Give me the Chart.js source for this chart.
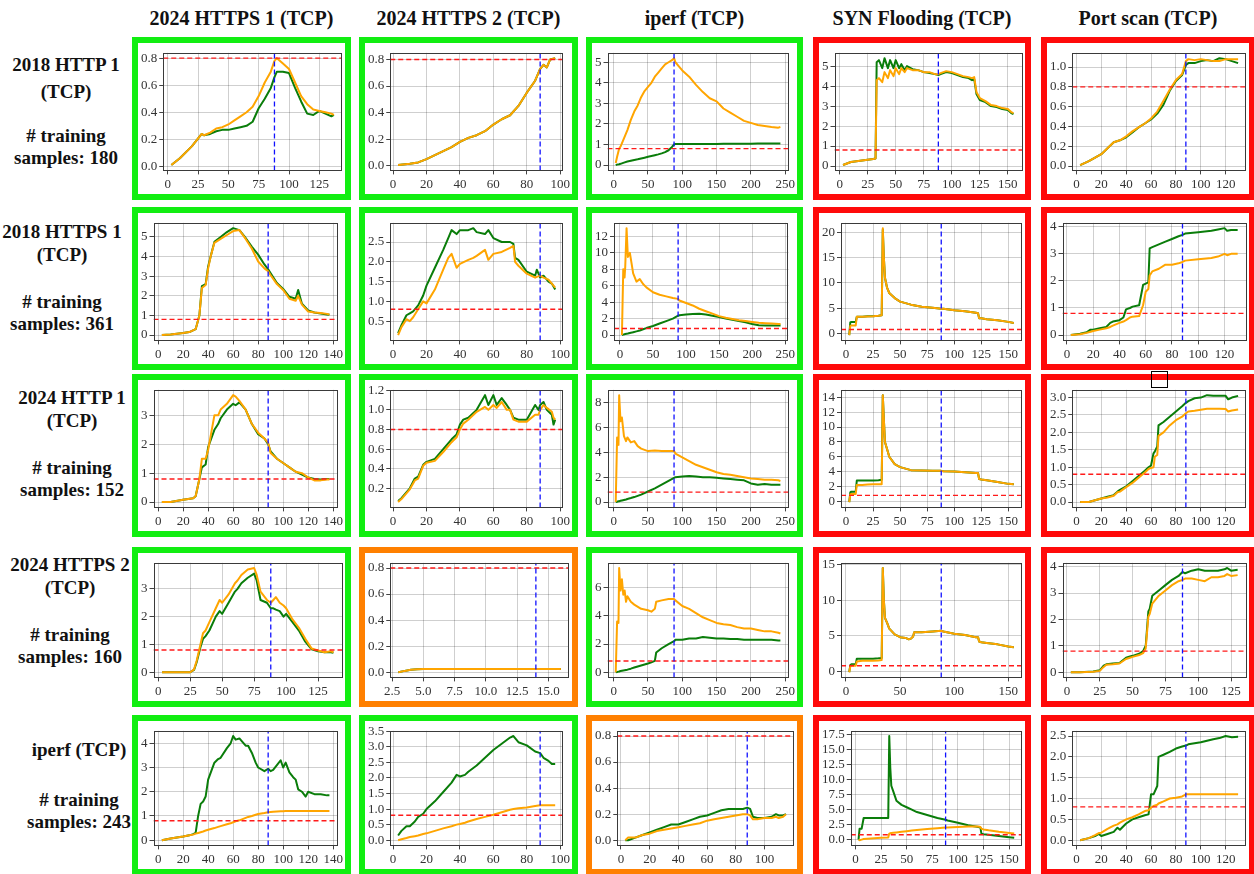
<!DOCTYPE html>
<html>
<head>
<meta charset="utf-8">
<script src="https://cdn.jsdelivr.net/npm/chart.js@4.4.0/dist/chart.umd.min.js"></script>
<style>
  body { margin: 0; background: #fff; width: 1254px; height: 874px; overflow: hidden; position: relative; font-family: 'Liberation Serif', serif; }
  .title { position: absolute; font-weight: bold; font-size: 20px; transform: translate(-50%, -50%); white-space: nowrap; color: #111; }
  .rowlab { position: absolute; font-weight: bold; font-size: 19px; transform: translate(-50%, -50%); white-space: nowrap; color: #111; }
  .cell { position: absolute; box-sizing: border-box; border: 6px solid; background: #fff; }
  .cell canvas { display: block; }
  .mark { position: absolute; left: 1151px; top: 371px; width: 15px; height: 15px; border: 1px solid #000; }
</style>
</head>
<body>
<script>
// ---- labels ----
const colTitles = ['2024 HTTPS 1 (TCP)', '2024 HTTPS 2 (TCP)', 'iperf (TCP)', 'SYN Flooding (TCP)', 'Port scan (TCP)'];
const rowLabels = [
  ['2018 HTTP 1', '(TCP)', '# training', 'samples: 180'],
  ['2018 HTTPS 1', '(TCP)', '# training', 'samples: 361'],
  ['2024 HTTP 1', '(TCP)', '# training', 'samples: 152'],
  ['2024 HTTPS 2', '(TCP)', '# training', 'samples: 160'],
  ['iperf  (TCP)', '# training', 'samples: 243']
];
const threshold = 0.8;

// ---- tick labels ----
const XT_125 = ['0', '25', '50', '75', '100', '125'];
const XT_100 = ['0', '20', '40', '60', '80', '100'];
const XT_250 = ['0', '50', '100', '150', '200', '250'];
const XT_150 = ['0', '25', '50', '75', '100', '125', '150'];
const XT_150b = ['0', '50', '100', '150'];
const XT_120 = ['0', '20', '40', '60', '80', '100', '120'];
const XT_140 = ['0', '20', '40', '60', '80', '100', '120', '140'];
const XT_15 = ['2.5', '5.0', '7.5', '10.0', '12.5', '15.0'];
const YT_08 = ['0.0', '0.2', '0.4', '0.6', '0.8'];
const YT_10 = ['0.0', '0.2', '0.4', '0.6', '0.8', '1.0'];
const YT_12b = ['0.2', '0.4', '0.6', '0.8', '1.0', '1.2'];
const YT_3 = ['0', '1', '2', '3'];
const YT_4 = ['0', '1', '2', '3', '4'];
const YT_5 = ['0', '1', '2', '3', '4', '5'];
const YT_6 = ['0', '2', '4', '6'];
const YT_8 = ['0', '2', '4', '6', '8'];
const YT_12 = ['0', '2', '4', '6', '8', '10', '12'];
const YT_14 = ['0', '2', '4', '6', '8', '10', '12', '14'];
const YT_15 = ['0', '5', '10', '15'];
const YT_20 = ['0', '5', '10', '15', '20'];
const YT_25h = ['0.5', '1.0', '1.5', '2.0', '2.5'];
const YT_25 = ['0.0', '0.5', '1.0', '1.5', '2.0', '2.5'];
const YT_30 = ['0.0', '0.5', '1.0', '1.5', '2.0', '2.5', '3.0'];
const YT_35 = ['0.0', '0.5', '1.0', '1.5', '2.0', '2.5', '3.0', '3.5'];
const YT_175 = ['0.0', '2.5', '5.0', '7.5', '10.0', '12.5', '15.0', '17.5'];

// ---- row 1: 2018 HTTP 1 ----
const r1c1_x = [3,10,20,28,30,35,40,45,50,55,60,65,70,75,80,85,88,90,95,100,105,110,115,120,125,130,135,137];
const r1c1_green = [0.01,0.06,0.15,0.24,0.23,0.24,0.26,0.27,0.27,0.28,0.29,0.30,0.33,0.43,0.50,0.58,0.66,0.70,0.70,0.69,0.58,0.48,0.39,0.38,0.41,0.39,0.37,0.38];
const r1c1_orange = [0.01,0.06,0.15,0.24,0.23,0.25,0.28,0.29,0.31,0.34,0.37,0.40,0.44,0.52,0.62,0.70,0.78,0.80,0.76,0.72,0.62,0.52,0.46,0.42,0.41,0.40,0.39,0.38];

const r1c2_x = [3,10,15,20,25,30,35,40,45,50,55,60,65,70,75,80,85,88,90,92,94,97];
const r1c2_green = [0.005,0.015,0.025,0.05,0.08,0.11,0.14,0.18,0.21,0.23,0.26,0.31,0.35,0.38,0.45,0.55,0.64,0.73,0.76,0.74,0.80,0.81];
const r1c2_orange = [0.005,0.015,0.025,0.05,0.08,0.11,0.14,0.18,0.21,0.23,0.26,0.31,0.35,0.38,0.45,0.55,0.64,0.73,0.76,0.74,0.80,0.81];

const r1c3_x = [3,5,8,10,15,20,25,30,35,40,45,50,55,60,65,70,75,80,85,88,90,95,100,110,120,130,140,150,160,170,180,190,200,210,220,230,240,243];
const r1c3_green = [0.0,0.02,0.04,0.06,0.12,0.17,0.21,0.25,0.28,0.32,0.36,0.4,0.44,0.48,0.52,0.57,0.63,0.72,0.88,1.0,1.03,1.03,1.03,1.03,1.03,1.03,1.03,1.03,1.04,1.04,1.04,1.04,1.04,1.05,1.05,1.05,1.05,1.05];
const r1c3_orange = [0.1,0.4,0.8,0.9,1.3,1.7,2.2,2.6,2.9,3.3,3.6,3.8,4.0,4.3,4.5,4.7,4.9,5.0,5.1,5.2,5.0,4.8,4.6,4.3,3.9,3.55,3.25,3.1,2.75,2.55,2.35,2.15,2.05,1.95,1.9,1.85,1.82,1.85];

const r1c4_x = [3,10,20,30,32,33,35,38,40,43,45,48,50,53,55,58,60,65,70,75,80,85,88,90,95,100,105,110,115,118,120,122,125,130,135,140,145,150,153,155];
const r1c4_green = [0.05,0.2,0.28,0.35,0.38,5.2,5.3,4.9,5.4,4.9,5.3,4.9,5.3,4.9,5.1,4.8,5.0,4.85,4.8,4.7,4.65,4.6,4.55,4.6,4.7,4.65,4.55,4.45,4.4,4.3,4.35,3.6,3.3,3.2,3.0,2.95,2.85,2.8,2.65,2.6];
const r1c4_orange = [0.05,0.2,0.28,0.35,0.38,4.3,4.4,4.2,4.7,4.4,4.8,4.5,4.9,4.6,4.9,4.7,4.9,4.8,4.8,4.7,4.7,4.6,4.6,4.65,4.75,4.7,4.6,4.5,4.45,4.4,4.45,3.7,3.4,3.25,3.05,3.0,2.9,2.85,2.7,2.65];

const r1c5_x = [3,10,20,30,35,40,45,50,55,60,65,70,75,80,85,88,90,95,100,105,110,115,120,125,130];
const r1c5_green = [0.01,0.05,0.12,0.24,0.26,0.29,0.34,0.39,0.43,0.47,0.53,0.62,0.76,0.86,0.92,1.02,1.04,1.04,1.06,1.07,1.06,1.09,1.08,1.06,1.04];
const r1c5_orange = [0.01,0.05,0.12,0.24,0.26,0.30,0.35,0.39,0.43,0.48,0.55,0.66,0.77,0.87,0.93,1.06,1.08,1.07,1.08,1.07,1.06,1.06,1.08,1.08,1.08];

// ---- row 2: 2018 HTTPS 1 ----
const r2c1_x = [3,10,20,25,30,33,35,38,40,42,45,50,55,60,65,70,75,80,85,88,90,95,100,105,110,112,115,120,125,130,135,137];
const r2c1_green = [0.0,0.03,0.1,0.15,0.3,1.0,2.5,2.6,3.5,4.0,4.75,5.0,5.25,5.45,5.35,4.95,4.5,4.1,3.6,3.35,3.15,2.65,2.35,1.95,1.85,2.3,1.6,1.25,1.15,1.1,1.05,1.03];
const r2c1_orange = [0.0,0.03,0.1,0.15,0.3,1.0,2.4,2.55,3.4,4.0,4.7,4.9,5.1,5.3,5.35,4.9,4.4,3.75,3.4,3.25,3.05,2.6,2.3,1.85,1.75,2.0,1.55,1.2,1.15,1.12,1.08,1.05];

const r2c2_x = [3,5,8,10,12,15,18,20,25,30,33,35,38,40,45,48,50,55,57,60,65,70,72,73,75,80,85,86,88,90,93,95,97];
const r2c2_green = [0.2,0.4,0.65,0.7,0.75,0.9,1.15,1.4,1.85,2.3,2.6,2.8,2.7,2.8,2.8,2.85,2.75,2.7,2.8,2.6,2.5,2.5,2.45,2.1,2.05,1.75,1.65,1.8,1.6,1.65,1.5,1.45,1.3];
const r2c2_orange = [0.15,0.35,0.55,0.5,0.6,0.8,1.0,0.95,1.3,1.8,2.1,2.2,1.85,1.95,2.05,2.1,2.15,2.3,2.05,2.2,2.25,2.35,2.4,2.0,1.9,1.7,1.6,1.62,1.65,1.6,1.55,1.45,1.35];

const r2c3_x = [3,5,7,8,10,12,15,18,20,25,30,35,40,50,60,70,80,88,90,100,110,120,130,140,150,160,170,180,190,200,210,220,230,240,243];
const r2c3_green = [0.0,0.05,0.1,0.12,0.15,0.18,0.25,0.3,0.35,0.45,0.55,0.7,0.85,1.1,1.4,1.7,2.0,2.35,2.4,2.5,2.55,2.6,2.5,2.35,2.2,2.0,1.85,1.7,1.55,1.35,1.2,1.15,1.15,1.15,1.15];
const r2c3_orange = [0.0,8.0,7.0,8.3,13.0,9.5,10.0,8.5,7.5,6.5,6.8,6.2,5.8,5.2,4.9,4.7,4.5,4.4,4.2,3.9,3.6,3.2,2.9,2.6,2.3,2.1,1.95,1.8,1.7,1.6,1.5,1.45,1.4,1.35,1.35];

const r2c4_x = [3,4,5,8,9,10,15,20,25,30,33,34,35,36,38,40,45,50,55,60,70,80,88,90,100,110,120,122,123,125,130,140,150,155];
const r2c4_green = [-0.3,2.2,2.3,2.3,2.3,3.3,3.3,3.4,3.4,3.5,3.6,20.5,15,11,9,8,7,6.3,6.0,5.7,5.3,5.1,4.9,4.9,4.6,4.4,4.1,4.0,3.0,3.0,2.8,2.6,2.3,2.1];
const r2c4_orange = [-0.3,1.5,1.6,1.6,1.6,3.3,3.3,3.35,3.4,3.5,3.6,20.8,15,11,9,8,7,6.3,6.0,5.7,5.3,5.1,4.9,4.9,4.6,4.4,4.1,4.0,3.0,3.0,2.8,2.6,2.3,2.1];

const r2c5_x = [3,10,15,18,20,25,30,33,35,40,43,45,48,50,55,58,60,62,63,65,70,75,80,85,88,90,100,110,115,120,122,125,130];
const r2c5_green = [0.0,0.05,0.1,0.2,0.2,0.25,0.3,0.45,0.5,0.55,0.65,0.95,1.0,1.05,1.1,1.85,1.9,1.95,3.2,3.25,3.35,3.45,3.55,3.65,3.7,3.75,3.8,3.85,3.9,3.95,3.85,3.88,3.88];
const r2c5_orange = [0.0,0.03,0.08,0.12,0.15,0.2,0.25,0.3,0.35,0.45,0.5,0.55,0.65,0.68,0.7,1.1,1.6,1.7,2.2,2.35,2.45,2.6,2.6,2.65,2.7,2.75,2.8,2.85,2.9,3.0,2.95,3.0,3.0];

// ---- row 3: 2024 HTTP 1 ----
const r3c1_x = [3,10,20,28,30,33,35,38,40,45,48,50,55,60,62,65,70,75,80,85,88,90,95,100,105,110,115,120,125,130,135,137];
const r3c1_green = [0.0,0.0,0.08,0.13,0.2,0.8,1.2,1.3,1.9,2.5,2.7,2.9,3.2,3.4,3.35,3.45,3.2,2.7,2.35,2.2,2.0,1.75,1.5,1.35,1.2,1.05,0.95,0.85,0.8,0.78,0.8,0.8];
const r3c1_orange = [0.0,0.0,0.08,0.13,0.2,0.8,1.5,1.5,1.8,3.0,3.0,3.2,3.4,3.7,3.65,3.5,3.2,2.7,2.4,2.2,2.05,1.7,1.5,1.35,1.2,1.05,1.0,0.85,0.75,0.75,0.78,0.78];

const r3c2_x = [3,5,10,13,15,18,20,25,30,35,38,40,42,45,50,55,57,60,62,65,68,70,72,75,80,85,87,88,90,92,95,96,97];
const r3c2_green = [0.07,0.1,0.2,0.3,0.32,0.44,0.47,0.5,0.6,0.7,0.75,0.85,0.9,0.92,1.0,1.15,1.05,1.15,1.05,1.12,1.05,1.0,0.92,0.9,0.9,1.05,1.0,1.05,1.08,1.0,0.95,0.85,0.9];
const r3c2_orange = [0.06,0.09,0.19,0.28,0.3,0.43,0.46,0.48,0.57,0.67,0.72,0.8,0.86,0.9,0.98,1.03,1.0,1.05,1.02,1.08,1.0,1.0,0.9,0.88,0.88,0.95,0.95,1.0,1.05,1.02,0.98,0.92,0.9];

const r3c3_x = [3,5,7,8,10,12,15,18,20,25,30,35,40,50,60,70,80,88,90,100,110,120,130,140,150,160,170,180,190,200,210,220,230,240,243];
const r3c3_green = [0.0,0.03,0.06,0.07,0.1,0.13,0.17,0.21,0.25,0.32,0.4,0.5,0.6,0.85,1.1,1.4,1.7,1.95,2.0,2.05,2.1,2.05,2.0,2.0,1.95,1.9,1.85,1.8,1.75,1.5,1.4,1.45,1.4,1.4,1.4];
const r3c3_orange = [0.0,5.2,4.6,8.6,6.5,6.8,5.3,4.9,5.2,4.8,4.9,4.5,4.3,4.1,4.15,4.1,4.1,4.1,3.9,3.6,3.3,3.0,2.8,2.6,2.4,2.25,2.2,2.1,2.0,1.9,1.85,1.8,1.8,1.75,1.7];

const r3c4_x = [3,4,5,8,9,10,15,20,25,30,33,34,35,36,38,40,45,50,55,60,70,80,88,90,100,110,120,122,123,125,130,140,150,155];
const r3c4_green = [-0.1,1.2,1.3,1.3,1.3,2.8,2.8,2.8,2.8,2.85,2.9,14.3,11,8,7,6,5,4.6,4.4,4.2,4.15,4.1,4.1,4.05,4.0,3.9,3.8,3.8,3.0,2.95,2.85,2.6,2.35,2.3];
const r3c4_orange = [-0.1,0.9,1.0,1.0,1.0,2.2,2.2,2.25,2.3,2.3,2.3,14.3,11,8,7,6,5,4.6,4.4,4.2,4.15,4.1,4.1,4.05,4.0,3.9,3.8,3.8,3.0,2.95,2.85,2.6,2.35,2.3];

const r3c5_x = [3,10,15,20,25,30,33,35,40,45,50,55,58,60,62,63,65,66,70,75,80,85,88,90,95,100,105,110,115,120,122,125,130];
const r3c5_green = [0.0,0.0,0.05,0.1,0.15,0.2,0.3,0.35,0.45,0.6,0.75,0.9,1.0,1.05,1.4,1.45,1.6,2.2,2.3,2.45,2.6,2.75,2.85,2.9,2.98,3.0,3.07,3.05,3.05,3.05,2.95,3.0,3.05];
const r3c5_orange = [0.0,0.0,0.05,0.1,0.13,0.18,0.28,0.3,0.43,0.55,0.7,0.85,0.95,0.98,1.0,1.3,1.35,1.9,2.0,2.2,2.35,2.45,2.55,2.6,2.62,2.65,2.68,2.68,2.68,2.67,2.6,2.63,2.66];

// ---- row 4: 2024 HTTPS 2 ----
const r4c1_x = [3,10,20,25,28,30,33,35,37,40,45,48,50,55,60,62,65,70,75,77,80,85,88,90,92,95,98,100,105,110,115,120,125,130,135,137];
const r4c1_green = [0.0,0.0,0.0,0.0,0.08,0.35,0.9,1.2,1.3,1.5,2.0,2.2,2.1,2.5,2.9,3.0,3.2,3.4,3.55,3.3,2.6,2.5,2.3,2.3,2.25,2.2,2.0,2.1,1.8,1.5,1.1,0.82,0.75,0.72,0.72,0.7];
const r4c1_orange = [0.0,0.0,0.0,0.0,0.1,0.4,1.0,1.4,1.5,1.8,2.3,2.6,2.5,2.8,3.2,3.3,3.5,3.7,3.75,3.5,2.9,2.6,2.5,2.6,2.7,2.5,2.4,2.3,1.9,1.6,1.2,0.85,0.78,0.72,0.75,0.72];

const r4c2_x = [3,3.5,4,4.5,5,6,8,10,12,14,16];
const r4c2_green = [0.0,0.01,0.018,0.022,0.024,0.025,0.025,0.025,0.025,0.025,0.025];
const r4c2_orange = [0.0,0.01,0.018,0.022,0.024,0.025,0.025,0.025,0.025,0.025,0.025];

const r4c3_x = [3,5,7,8,10,12,14,16,18,20,25,30,40,50,55,60,62,70,80,88,90,100,110,120,130,140,150,160,170,180,190,200,210,220,230,240,243];
const r4c3_green = [0.0,0.02,0.04,0.05,0.08,0.1,0.12,0.14,0.16,0.18,0.25,0.33,0.48,0.62,0.7,0.8,1.4,1.7,2.0,2.2,2.3,2.3,2.4,2.4,2.5,2.45,2.4,2.4,2.35,2.35,2.3,2.3,2.3,2.3,2.3,2.25,2.25];
const r4c3_orange = [0.0,3.6,3.5,7.4,5.8,6.6,5.5,5.8,5.0,5.4,5.0,4.8,4.5,4.4,4.3,4.5,5.0,5.1,5.2,5.2,5.1,4.7,4.5,4.2,3.9,3.7,3.5,3.4,3.35,3.2,3.1,3.1,3.0,2.9,2.9,2.8,2.75];

const r4c4_x = [3,4,5,8,9,10,15,20,25,30,33,34,35,36,38,40,45,50,55,58,60,62,63,70,80,88,90,100,110,120,122,123,125,130,140,150,155];
const r4c4_green = [-0.1,0.9,1.0,1.0,1.0,1.8,1.8,1.8,1.8,1.85,1.9,14.5,10,7.5,6.8,6.0,5.2,4.8,4.7,4.5,4.6,4.9,5.5,5.5,5.6,5.7,5.6,5.3,5.1,4.8,4.8,4.2,4.1,4.0,3.8,3.5,3.4];
const r4c4_orange = [-0.1,0.7,0.8,0.8,0.8,1.4,1.5,1.5,1.5,1.55,1.6,14.5,10,7.5,6.8,6.0,5.2,4.8,4.7,4.5,4.6,4.9,5.5,5.5,5.6,5.7,5.6,5.3,5.1,4.8,4.8,4.2,4.1,4.0,3.8,3.5,3.4];

const r4c5_x = [3,10,20,25,28,30,35,40,45,48,50,55,58,60,62,63,65,70,75,80,85,88,90,95,100,105,110,115,120,122,125,130];
const r4c5_green = [0.0,0.0,0.03,0.07,0.25,0.3,0.33,0.35,0.55,0.6,0.62,0.7,0.8,1.0,2.3,2.4,2.9,3.1,3.3,3.5,3.65,3.8,3.75,3.85,3.9,3.85,3.85,3.85,3.9,3.95,3.85,3.88];
const r4c5_orange = [0.0,0.0,0.02,0.05,0.2,0.28,0.3,0.33,0.5,0.55,0.58,0.65,0.72,0.9,2.1,2.2,2.6,2.9,3.1,3.3,3.45,3.5,3.55,3.55,3.5,3.45,3.6,3.6,3.65,3.72,3.65,3.68];

// ---- row 5: iperf ----
const r5c1_x = [3,10,20,25,28,30,32,34,36,38,40,45,48,50,55,58,60,62,65,70,72,75,78,80,85,88,90,92,95,98,100,102,105,108,110,112,115,118,120,125,130,135,137];
const r5c1_green = [0.0,0.07,0.15,0.2,0.25,0.3,1.0,1.5,1.6,1.8,2.5,3.2,3.35,3.4,3.8,4.0,4.3,4.15,4.2,3.9,3.9,3.6,3.2,3.0,2.85,2.95,2.85,2.9,3.1,3.3,3.0,3.2,2.8,2.6,2.5,2.1,2.0,1.8,2.0,1.9,1.9,1.85,1.85];
const r5c1_orange = [0.0,0.07,0.15,0.2,0.23,0.27,0.3,0.33,0.36,0.4,0.43,0.5,0.55,0.58,0.66,0.7,0.74,0.78,0.82,0.92,0.96,1.0,1.05,1.08,1.12,1.15,1.16,1.17,1.18,1.19,1.19,1.2,1.2,1.2,1.2,1.2,1.2,1.2,1.2,1.2,1.2,1.2,1.2];

const r5c2_x = [3,5,8,10,13,15,18,20,25,30,35,38,40,43,45,50,55,60,65,70,72,75,80,85,88,90,93,95,97];
const r5c2_green = [0.15,0.3,0.45,0.45,0.6,0.75,0.85,1.0,1.25,1.55,1.85,2.1,2.05,2.1,2.2,2.4,2.65,2.9,3.1,3.3,3.35,3.15,3.05,2.85,2.8,2.65,2.55,2.45,2.45];
const r5c2_orange = [0.0,0.03,0.07,0.1,0.13,0.15,0.2,0.22,0.3,0.38,0.45,0.5,0.52,0.56,0.6,0.68,0.75,0.82,0.9,0.98,1.0,1.03,1.05,1.1,1.12,1.12,1.12,1.12,1.12];

const r5c3_x = [3,5,10,15,20,25,30,35,40,45,50,55,60,65,70,75,80,85,88,90,92,95,100,105,108,110,113,115];
const r5c3_green = [0.0,0.0,0.02,0.04,0.06,0.08,0.1,0.12,0.12,0.14,0.16,0.18,0.19,0.21,0.23,0.24,0.24,0.24,0.25,0.24,0.18,0.17,0.17,0.18,0.2,0.19,0.19,0.2];
const r5c3_orange = [0.0,0.02,0.02,0.04,0.05,0.07,0.08,0.09,0.1,0.11,0.12,0.13,0.15,0.16,0.17,0.18,0.19,0.2,0.2,0.19,0.16,0.16,0.17,0.17,0.18,0.17,0.18,0.2];

const r5c4_x = [3,4,6,8,15,25,32,33,34,35,37,40,45,50,55,60,70,80,88,90,100,110,120,122,123,125,130,140,150,155];
const r5c4_green = [0.0,1.8,1.8,3.6,3.6,3.6,3.6,17.3,12,9,8,6.5,5.8,5.4,5.0,4.6,4.1,3.6,3.3,3.2,2.8,2.4,2.1,2.0,1.0,0.9,0.8,0.6,0.4,0.3];
const r5c4_orange = [0.0,-0.1,0.0,0.1,0.2,0.3,0.35,1.0,1.05,1.1,1.15,1.2,1.3,1.4,1.5,1.6,1.75,1.9,2.0,2.0,2.1,2.2,2.2,2.1,1.8,1.7,1.55,1.3,1.1,1.0];

const r5c5_x = [3,10,15,18,20,25,30,33,35,40,45,50,55,58,60,62,65,66,70,75,80,85,88,90,100,110,115,120,125,130];
const r5c5_green = [0.0,0.05,0.1,0.15,0.1,0.15,0.2,0.3,0.25,0.4,0.5,0.55,0.6,0.62,1.1,1.1,1.3,2.0,2.05,2.12,2.2,2.25,2.27,2.3,2.35,2.42,2.45,2.5,2.47,2.48];
const r5c5_orange = [0.0,0.05,0.12,0.17,0.18,0.27,0.35,0.38,0.42,0.5,0.55,0.62,0.7,0.72,0.78,0.82,0.85,0.88,0.93,1.0,1.02,1.05,1.1,1.1,1.1,1.1,1.1,1.1,1.1,1.1];

// ---- grid of panels ----
const G = '#11ee11', R = '#ff0a0a', O = '#ff8000';
const cells = [
  [
    { x: r1c1_x, g: r1c1_green, o: r1c1_orange, xt: XT_125, yt: YT_08, cut: 88, frame: G },
    { x: r1c2_x, g: r1c2_green, o: r1c2_orange, xt: XT_100, yt: YT_08, cut: 88, frame: G },
    { x: r1c3_x, g: r1c3_green, o: r1c3_orange, xt: XT_250, yt: YT_5, cut: 88, frame: G },
    { x: r1c4_x, g: r1c4_green, o: r1c4_orange, xt: XT_150, yt: YT_5, cut: 88, frame: R },
    { x: r1c5_x, g: r1c5_green, o: r1c5_orange, xt: XT_120, yt: YT_10, cut: 88, frame: R }
  ],
  [
    { x: r2c1_x, g: r2c1_green, o: r2c1_orange, xt: XT_140, yt: YT_5, cut: 88, frame: G },
    { x: r2c2_x, g: r2c2_green, o: r2c2_orange, xt: XT_100, yt: YT_25h, cut: 88, frame: G },
    { x: r2c3_x, g: r2c3_green, o: r2c3_orange, xt: XT_250, yt: YT_12, cut: 88, frame: G },
    { x: r2c4_x, g: r2c4_green, o: r2c4_orange, xt: XT_150, yt: YT_20, cut: 88, frame: R },
    { x: r2c5_x, g: r2c5_green, o: r2c5_orange, xt: XT_120, yt: YT_4, cut: 88, frame: R }
  ],
  [
    { x: r3c1_x, g: r3c1_green, o: r3c1_orange, xt: XT_140, yt: YT_3, cut: 88, frame: G },
    { x: r3c2_x, g: r3c2_green, o: r3c2_orange, xt: XT_100, yt: YT_12b, cut: 88, frame: G },
    { x: r3c3_x, g: r3c3_green, o: r3c3_orange, xt: XT_250, yt: YT_8, cut: 88, frame: G },
    { x: r3c4_x, g: r3c4_green, o: r3c4_orange, xt: XT_150, yt: YT_14, cut: 88, frame: R },
    { x: r3c5_x, g: r3c5_green, o: r3c5_orange, xt: XT_120, yt: YT_30, cut: 88, frame: R }
  ],
  [
    { x: r4c1_x, g: r4c1_green, o: r4c1_orange, xt: XT_125, yt: YT_3, cut: 88, frame: G },
    { x: r4c2_x, g: r4c2_green, o: r4c2_orange, xt: XT_15, yt: YT_08, cut: 14, frame: O },
    { x: r4c3_x, g: r4c3_green, o: r4c3_orange, xt: XT_250, yt: YT_6, cut: 88, frame: G },
    { x: r4c4_x, g: r4c4_green, o: r4c4_orange, xt: XT_150b, yt: YT_15, cut: 88, frame: R },
    { x: r4c5_x, g: r4c5_green, o: r4c5_orange, xt: XT_125, yt: YT_4, cut: 88, frame: R }
  ],
  [
    { x: r5c1_x, g: r5c1_green, o: r5c1_orange, xt: XT_140, yt: YT_4, cut: 88, frame: G },
    { x: r5c2_x, g: r5c2_green, o: r5c2_orange, xt: XT_100, yt: YT_35, cut: 88, frame: G },
    { x: r5c3_x, g: r5c3_green, o: r5c3_orange, xt: XT_100, yt: YT_08, cut: 88, frame: O },
    { x: r5c4_x, g: r5c4_green, o: r5c4_orange, xt: XT_150, yt: YT_175, cut: 88, frame: R },
    { x: r5c5_x, g: r5c5_green, o: r5c5_orange, xt: XT_120, yt: YT_25, cut: 88, frame: R }
  ]
];

// page geometry
const colLeft = [132, 359, 586, 813, 1041];
const colWidth = [219, 219, 217, 218, 214];
const rowTop = [37, 207, 374, 547, 715];
const rowHeight = [163, 163, 163, 160, 160];
const labelX = [66, 62, 72, 70, 79];
const labelY = [[65, 92, 136, 158], [232, 255, 302, 324], [398, 421, 468, 490], [565, 588, 635, 657], [750, 800, 822]];

Chart.defaults.font.family = "'Liberation Serif', serif";
Chart.defaults.font.size = 13;
Chart.defaults.color = '#333';

// matplotlib-like spines around the plot area
const framePlugin = {
  id: 'frame',
  afterDatasetsDraw(chart) {
    const a = chart.chartArea, ctx = chart.ctx;
    ctx.save();
    ctx.strokeStyle = '#3a3a3a';
    ctx.lineWidth = 1;
    ctx.strokeRect(Math.round(a.left) + 0.5, Math.round(a.top) + 0.5, Math.round(a.right - a.left) - 1, Math.round(a.bottom - a.top) - 1);
    ctx.restore();
  }
};

function axisOpts(min, max, labels) {
  return {
    type: 'linear', min: min, max: max,
    afterBuildTicks: ax => { ax.ticks = labels.map(s => ({ value: parseFloat(s) })); },
    ticks: { callback: (v, i) => labels[i], autoSkip: false, maxRotation: 0, padding: 2, color: '#333' },
    grid: { color: 'rgba(0,0,0,0.19)', tickLength: 4, tickColor: '#444', lineWidth: 1 },
    border: { display: false }
  };
}

function makeChart(canvas, c) {
  const ys = c.g.concat(c.o, [threshold]);
  const ymin = Math.min(...ys), ymax = Math.max(...ys);
  const xmin = c.x[0], xmax = c.x[c.x.length - 1];
  const xlo = xmin - (xmax - xmin) * 0.05, xhi = xmax + (xmax - xmin) * 0.05;
  const ylo = ymin - (ymax - ymin) * 0.05, yhi = ymax + (ymax - ymin) * 0.05;
  const pts = vals => c.x.map((x, i) => ({ x: x, y: vals[i] }));
  new Chart(canvas, {
    type: 'line',
    data: {
      datasets: [
        { data: [{ x: c.cut, y: ylo }, { x: c.cut, y: yhi }], borderColor: '#1010ff', borderWidth: 1.3, borderDash: [5, 3] },
        { data: [{ x: xlo, y: threshold }, { x: xhi, y: threshold }], borderColor: '#ff1a1a', borderWidth: 1.4, borderDash: [5, 3] },
        { data: pts(c.o), borderColor: '#ffa500', borderWidth: 2 },
        { data: pts(c.g), borderColor: '#0a7d0a', borderWidth: 2 }
      ]
    },
    options: {
      responsive: false,
      animation: false,
      elements: { point: { radius: 0 }, line: { tension: 0, borderJoinStyle: 'round' } },
      plugins: { legend: { display: false }, tooltip: { enabled: false } },
      layout: { padding: { top: 2, right: 3, bottom: 0, left: 1 } },
      scales: { x: axisOpts(xlo, xhi, c.xt), y: axisOpts(ylo, yhi, c.yt) }
    },
    plugins: [framePlugin]
  });
}

colTitles.forEach((t, j) => {
  const d = document.createElement('div');
  d.className = 'title';
  d.textContent = t;
  d.style.left = (colLeft[j] + colWidth[j] / 2) + 'px';
  d.style.top = '18px';
  document.body.appendChild(d);
});

rowLabels.forEach((lines, i) => {
  lines.forEach((t, k) => {
    const d = document.createElement('div');
    d.className = 'rowlab';
    d.textContent = t;
    d.style.left = labelX[i] + 'px';
    d.style.top = labelY[i][k] + 'px';
    document.body.appendChild(d);
  });
});

cells.forEach((row, i) => {
  row.forEach((c, j) => {
    const box = document.createElement('div');
    box.className = 'cell';
    box.style.left = colLeft[j] + 'px';
    box.style.top = rowTop[i] + 'px';
    box.style.width = colWidth[j] + 'px';
    box.style.height = rowHeight[i] + 'px';
    box.style.borderColor = c.frame;
    const cv = document.createElement('canvas');
    cv.width = colWidth[j] - 12;
    cv.height = rowHeight[i] - 12;
    box.appendChild(cv);
    document.body.appendChild(box);
    makeChart(cv, c);
  });
});

const mk = document.createElement('div');
mk.className = 'mark';
document.body.appendChild(mk);
</script>
</body>
</html>
